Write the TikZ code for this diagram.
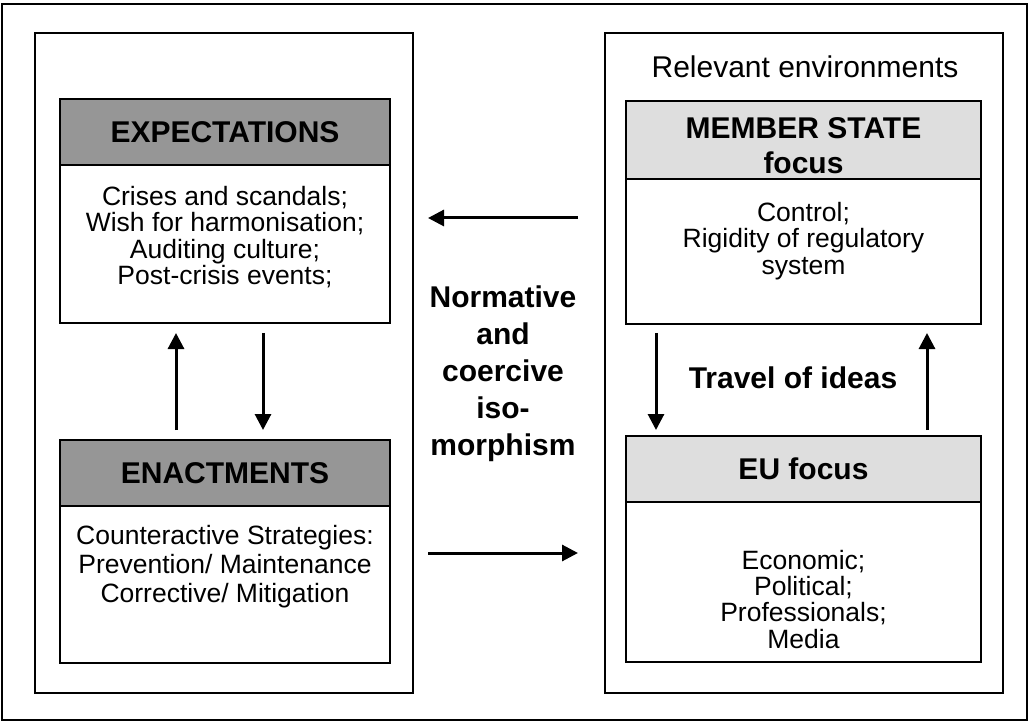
\documentclass[tikz,border=0pt]{standalone}
\usepackage{fontspec}
\setmainfont{Liberation Sans}
\usetikzlibrary{arrows.meta,calc}
\definecolor{dkgray}{gray}{0.59}
\definecolor{ltgray}{gray}{0.87}
\begin{document}
\begin{tikzpicture}[x=1pt,y=-1pt,
  frame/.style={draw=black,line width=2pt,rectangle,inner sep=0pt,outer sep=0pt},
  darkhead/.style={frame,fill=dkgray,font=\fontsize{30}{35}\selectfont\bfseries,align=center},
  lighthead/.style={frame,fill=ltgray,font=\fontsize{30}{35}\selectfont\bfseries,align=center},
  bodytext/.style={inner sep=0pt,anchor=north,align=center},
  arr/.style={line width=3pt,-{Triangle[length=16pt,width=16pt]}}]
\useasboundingbox (0,0) rectangle (1029,722);
% frames
\node[frame,minimum width=1025pt,minimum height=716pt] (outer) at (514.5,362) {};
\node[frame,minimum width=378pt,minimum height=660pt] (leftc) at (224,363) {};
\node[frame,minimum width=398pt,minimum height=660pt] (rightc) at (804,363) {};
% left boxes
\node[darkhead,minimum width=330pt,minimum height=66pt] (exph) at (225,132) {EXPECTATIONS};
\node[frame,minimum width=330pt,minimum height=158pt] (expb) at (225,244) {};
\node[bodytext,font=\fontsize{26.5}{26.3}\selectfont] (exptext) at (225,186)
  {Crises and scandals;\\Wish for harmonisation;\\Auditing culture;\\Post-crisis events;};
\node[darkhead,minimum width=330pt,minimum height=66pt] (enh) at (225,473) {ENACTMENTS};
\node[frame,minimum width=330pt,minimum height=157pt] (enb) at (225,584.5) {};
\node[bodytext,font=\fontsize{26.5}{29}\selectfont] (entext) at (225,525)
  {Counteractive Strategies:\\Prevention/ Maintenance\\Corrective/ Mitigation};
% right boxes
\node[inner sep=0pt,font=\fontsize{30}{35}\selectfont] (relenv) at (805,67) {Relevant environments};
\node[lighthead,minimum width=355pt,minimum height=78pt] (msh) at (803.5,140) {};
\node[inner sep=0pt,align=center,font=\fontsize{30}{35}\selectfont\bfseries] (mstitle) at (803.5,146) {MEMBER STATE\\focus};
\node[frame,minimum width=355pt,minimum height=145pt] (msb) at (803.5,251.5) {};
\node[bodytext,font=\fontsize{26.5}{26.5}\selectfont] (mstext) at (803.5,202)
  {Control;\\Rigidity of regulatory\\system};
\node[lighthead,minimum width=355pt,minimum height=66pt] (euh) at (803.5,469) {EU focus};
\node[frame,minimum width=355pt,minimum height=160pt] (eub) at (803.5,582) {};
\node[bodytext,font=\fontsize{26.5}{26.2}\selectfont] (eutext) at (803.5,550)
  {Economic;\\Political;\\Professionals;\\Media};
% middle labels
\node[bodytext,font=\fontsize{30}{37}\selectfont\bfseries] (iso) at (503,286)
  {Normative\\and\\coercive\\iso-\\morphism};
\node[inner sep=0pt,font=\fontsize{30}{35}\selectfont\bfseries] (travel) at (793,378) {Travel of ideas};
% arrows
\draw[arr] ($(enh.north)+(-49,-10)$) -- ($(expb.south)+(-49,10)$);
\draw[arr] ($(expb.south)+(38,10)$) -- ($(enh.north)+(38,-10)$);
\draw[arr] ($(msb.south)+(-147.5,9)$) -- ($(euh.north)+(-147.5,-6)$);
\draw[arr] ($(euh.north)+(123.5,-6)$) -- ($(msb.south)+(123.5,9)$);
\draw[arr] ($(rightc.west)+(-27,-145)$) -- ($(leftc.east)+(15,-145)$);
\draw[arr] ($(leftc.east)+(15,190)$) -- ($(rightc.west)+(-27,190)$);
\end{tikzpicture}
\end{document}
